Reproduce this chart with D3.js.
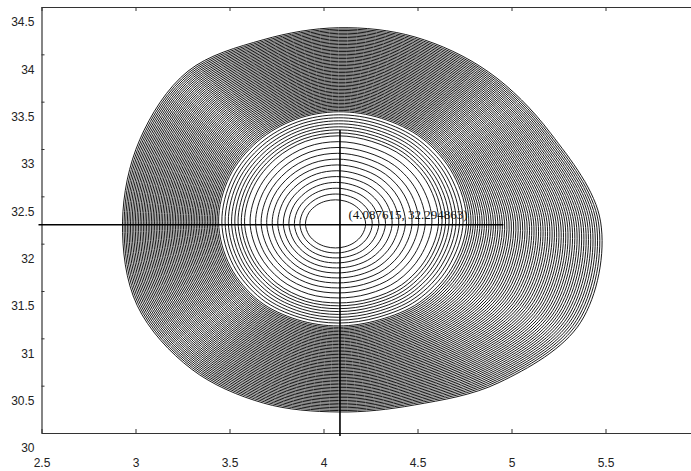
<!DOCTYPE html>
<html>
<head>
<meta charset="utf-8">
<script src="https://cdn.jsdelivr.net/npm/d3@7"></script>
<style>
  html, body { margin: 0; padding: 0; background: #fff; }
  svg { display: block; }
</style>
</head>
<body>
<svg id="chart" width="691" height="471"></svg>
<script>
// ---- data ----
const xTicks = [2.5, 3, 3.5, 4, 4.5, 5, 5.5];
const xTickLabels = ["2.5", "3", "3.5", "4", "4.5", "5", "5.5"];
const yTicks = [30, 30.5, 31, 31.5, 32, 32.5, 33, 33.5, 34, 34.5];
const yTickLabels = ["30", "30.5", "31", "31.5", "32", "32.5", "33", "33.5", "34", "34.5"];

// contour levels (ring index from the minimum outward)
const contourLevels = [1,2,3,4,5,6,7,8,9,10,11,12,13,14,15,16,17,18,19,20,
  21,22,23,24,25,26,27,28,29,30,31,32,33,34,35,36,37,38,39,40,
  41,42,43,44,45,46,47,48,49,50,51,52,53,54,55,56,57,58,59,60,
  61,62,63,64,65,66,67,68,69,70,71,72,73,74,75,76,77,78,79,80];

// rings at four levels, 16 directions each (data units)
const anchorLevels = [1, 12, 20, 80];
const ring1X  = [4.224,4.205,4.163,4.114,4.064,4.013,3.964,3.922,3.904,3.922,3.964,4.013,4.064,4.114,4.163,4.205];
const ring1Y  = [32.209,32.326,32.407,32.450,32.463,32.450,32.407,32.326,32.209,32.093,32.011,31.968,31.955,31.968,32.011,32.093];
const ring12X = [4.612,4.557,4.426,4.257,4.080,3.903,3.745,3.628,3.580,3.633,3.753,3.911,4.080,4.249,4.415,4.547];
const ring12Y = [32.230,32.623,32.918,33.080,33.139,33.080,32.895,32.602,32.230,31.861,31.580,31.419,31.374,31.419,31.565,31.845];
const ring20X = [4.761,4.690,4.524,4.308,4.080,3.854,3.651,3.500,3.442,3.505,3.659,3.864,4.080,4.296,4.509,4.680];
const ring20Y = [32.230,32.732,33.112,33.324,33.393,33.314,33.082,32.708,32.230,31.756,31.393,31.195,31.131,31.195,31.378,31.736];
const ring80X = [5.474,5.210,4.877,4.487,4.080,3.679,3.279,3.023,2.931,3.009,3.298,3.681,4.080,4.483,4.934,5.368];
const ring80Y = [32.230,33.161,33.815,34.183,34.281,34.154,33.822,33.100,32.230,31.347,30.675,30.316,30.222,30.296,30.533,31.170];

// crosshair at the minimum
const crossX = 4.0876;
const crossY = 32.2;
const hLineFrom = 2.484, hLineTo = 4.957;
const vLineFrom = 33.2, vLineTo = 29.968;
const crossLabel = "(4.087615, 32.294863)";
const labelX = 4.133, labelY = 32.262;

// ---- chart ----
const svg = d3.select("#chart");
svg.append("rect").attr("width", 691).attr("height", 471).attr("fill", "#fff");

const x = d3.scaleLinear().domain([2.5, 6]).range([41.5, 699.5]);
const y = d3.scaleLinear().domain([30, 34.5]).range([433, 7]);

// contours
const line = d3.line()
  .x(d => x(d[0])).y(d => y(d[1]))
  .curve(d3.curveCatmullRomClosed.alpha(0.5));

const pointScales = ring1X.map((_, k) => ({
  sx: d3.scaleLinear().domain(anchorLevels).range([ring1X[k], ring12X[k], ring20X[k], ring80X[k]]),
  sy: d3.scaleLinear().domain(anchorLevels).range([ring1Y[k], ring12Y[k], ring20Y[k], ring80Y[k]])
}));

const rings = contourLevels.map(lv => pointScales.map(p => [p.sx(lv), p.sy(lv)]));

svg.append("g")
  .selectAll("path")
  .data(rings)
  .join("path")
  .attr("d", line)
  .attr("fill", "none")
  .attr("stroke", "#000")
  .attr("stroke-width", 0.9);

// axes
const font = "'Liberation Sans', Arial, sans-serif";

const xAxis = svg.append("g")
  .attr("transform", `translate(0,${y(30)})`)
  .call(d3.axisBottom(x).tickValues(xTicks).tickFormat((d, i) => xTickLabels[i])
    .tickSizeInner(-4).tickSizeOuter(0).tickPadding(25));
xAxis.select(".domain").attr("stroke", "#333").attr("stroke-width", 1.2);
xAxis.selectAll(".tick line").attr("stroke", "#333");
xAxis.selectAll("text").attr("font-family", font).attr("font-size", 12).attr("fill", "#222");

const xTop = svg.append("g")
  .attr("transform", `translate(0,${y(34.5)})`)
  .call(d3.axisTop(x).tickValues(xTicks).tickFormat("")
    .tickSizeInner(-4).tickSizeOuter(0));
xTop.select(".domain").attr("stroke", "#333").attr("stroke-width", 1.2);
xTop.selectAll(".tick line").attr("stroke", "#333");

const yAxis = svg.append("g")
  .attr("transform", `translate(${x(2.5)},0)`)
  .call(d3.axisLeft(y).tickValues(yTicks).tickFormat((d, i) => yTickLabels[i])
    .tickSizeInner(-3).tickSizeOuter(0).tickPadding(7));
yAxis.select(".domain").attr("stroke", "#333").attr("stroke-width", 1.2);
yAxis.selectAll(".tick line").attr("stroke", "#333");
yAxis.selectAll("text").attr("font-family", font).attr("font-size", 12).attr("fill", "#222")
  .attr("transform", "translate(0,15)");

// crosshair
svg.append("line")
  .attr("x1", x(hLineFrom)).attr("x2", x(hLineTo))
  .attr("y1", y(crossY)).attr("y2", y(crossY))
  .attr("stroke", "#000").attr("stroke-width", 1.6);
svg.append("line")
  .attr("x1", x(crossX)).attr("x2", x(crossX))
  .attr("y1", y(vLineFrom)).attr("y2", y(vLineTo))
  .attr("stroke", "#000").attr("stroke-width", 1.6);

svg.append("text")
  .attr("x", x(labelX)).attr("y", y(labelY))
  .attr("font-family", "'Liberation Serif', 'Times New Roman', serif")
  .attr("font-size", 13)
  .attr("fill", "#111")
  .text(crossLabel);
</script>
</body>
</html>
